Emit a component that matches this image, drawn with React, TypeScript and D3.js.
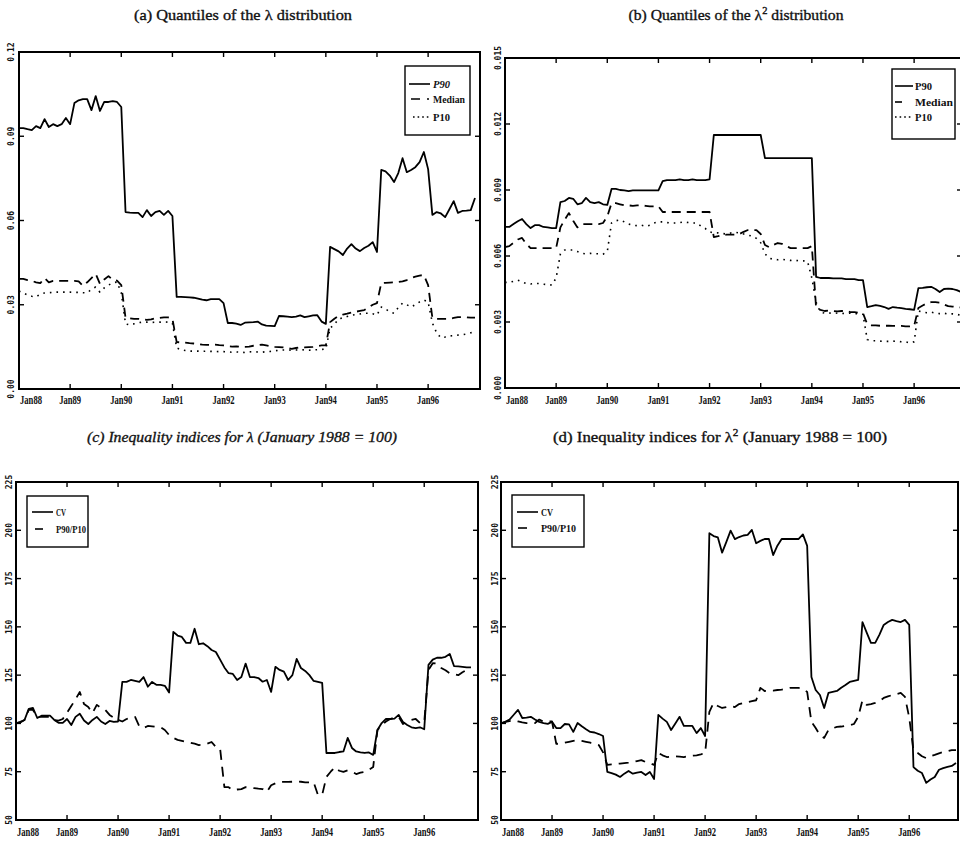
import React from "react";
import * as d3 from "d3";

// ---------- data (monthly, Jan 1988 .. Dec 1996) ----------
const yearTickMonths = [0, 12, 24, 36, 48, 60, 72, 84, 96];
const yearLabels = ["Jan88", "Jan89", "Jan90", "Jan91", "Jan92", "Jan93", "Jan94", "Jan95", "Jan96"];

const quantA_ticks = [0, 0.03, 0.06, 0.09, 0.12];
const quantA_labels = ["0.00", "0.03", "0.06", "0.09", "0.12"];
const quantB_ticks = [0, 0.003, 0.006, 0.009, 0.012, 0.015];
const quantB_labels = ["0.000", "0.003", "0.006", "0.009", "0.012", "0.015"];
const index_ticks = [50, 75, 100, 125, 150, 175, 200, 225];
const index_labels = ["50", "75", "100", "125", "150", "175", "200", "225"];

const p90Lambda = [
  0.0929, 0.0929, 0.0925, 0.0922, 0.0936, 0.0929, 0.0961, 0.0933, 0.0943, 0.0936, 0.0943, 0.0965, 0.0943,
  0.1018, 0.1028, 0.1032, 0.1032, 0.0993, 0.1043, 0.099, 0.1022, 0.1022, 0.1025, 0.1022, 0.1004,
  0.063, 0.0628, 0.0627, 0.0627, 0.0612, 0.0637, 0.0616, 0.063, 0.0634, 0.062, 0.0634, 0.0616,
  0.0328, 0.0328, 0.0327, 0.0326, 0.0325, 0.0322, 0.0318, 0.0316, 0.032, 0.032, 0.032, 0.0306,
  0.0235, 0.0235, 0.0233, 0.0228, 0.0236, 0.0237, 0.0238, 0.024, 0.023, 0.0226, 0.0225, 0.0224,
  0.026, 0.0259, 0.0258, 0.0256, 0.0258, 0.0262, 0.0256, 0.0259, 0.0262, 0.0263, 0.024, 0.0232,
  0.0506, 0.0498, 0.049, 0.0477, 0.05, 0.0516, 0.05, 0.0491, 0.0502, 0.051, 0.0523, 0.0488,
  0.078, 0.0775, 0.076, 0.0737, 0.0769, 0.0822, 0.0772, 0.078, 0.079, 0.0808, 0.0844, 0.0783,
  0.062, 0.063, 0.0625, 0.0612, 0.064, 0.0669, 0.0627, 0.0634, 0.0635, 0.0637, 0.068,
];
const medLambda = [
  0.0392, 0.0392, 0.0388, 0.0385, 0.038, 0.0377, 0.0395, 0.038, 0.0385, 0.0385, 0.0385, 0.0385, 0.0385,
  0.0385, 0.0383, 0.0367, 0.038, 0.0395, 0.041, 0.0374, 0.039, 0.0402, 0.0388, 0.0386, 0.037,
  0.0253, 0.0252, 0.025, 0.025, 0.0248, 0.0246, 0.0248, 0.0252, 0.0253, 0.0255, 0.0255, 0.025,
  0.0167, 0.0166, 0.0165, 0.0163, 0.0162, 0.016, 0.0158, 0.0157, 0.0157, 0.0158, 0.0156, 0.0155,
  0.0152, 0.0151, 0.0152, 0.015, 0.015, 0.0151, 0.0154, 0.0156, 0.0158, 0.0155, 0.0152, 0.015,
  0.0149, 0.0148, 0.0146, 0.0143, 0.0146, 0.0149, 0.0148, 0.0149, 0.015, 0.0152, 0.0155, 0.0155,
  0.0238, 0.025, 0.026, 0.0265, 0.0268, 0.0272, 0.0275, 0.0278, 0.0281, 0.029, 0.03, 0.0306,
  0.0377, 0.0378, 0.0379, 0.038, 0.0381, 0.0383, 0.0388, 0.0395, 0.04, 0.0404, 0.0406, 0.037,
  0.0253, 0.025, 0.025, 0.025, 0.025, 0.0253, 0.0256, 0.0256, 0.0255, 0.0254, 0.0254,
];
const p10Lambda = [
  0.0349, 0.0342, 0.0335, 0.033, 0.0328, 0.0338, 0.0342, 0.0343, 0.0344, 0.0345, 0.0345, 0.0345, 0.0345,
  0.0344, 0.0344, 0.0343, 0.0342, 0.0355, 0.0363, 0.0345, 0.036, 0.037, 0.0378, 0.0381, 0.0342,
  0.0232, 0.0228, 0.0232, 0.0236, 0.0238, 0.0238, 0.0237, 0.0238, 0.0238, 0.0239, 0.0238, 0.0235,
  0.0146, 0.014, 0.0137, 0.0135, 0.0135, 0.0135, 0.0134, 0.0135, 0.0134, 0.0134, 0.0133, 0.0133,
  0.0132, 0.0131, 0.0132, 0.0131, 0.013, 0.0132, 0.0133, 0.0132, 0.0131, 0.0133, 0.0134, 0.0136,
  0.0138, 0.0139, 0.0139, 0.0138, 0.0139, 0.014, 0.0139, 0.0138, 0.0139, 0.014, 0.0141, 0.0142,
  0.0217, 0.023, 0.025, 0.0253, 0.0258, 0.0263, 0.0265, 0.0267, 0.027, 0.027, 0.0268, 0.0263,
  0.0292, 0.0285, 0.0275, 0.027, 0.029, 0.0306, 0.03, 0.0292, 0.03, 0.031, 0.0317, 0.031,
  0.0235, 0.02, 0.0182, 0.0185, 0.0189, 0.019, 0.0192, 0.0193, 0.0196, 0.02, 0.0203,
];

const p90Lambda2 = [
  0.00732, 0.00732, 0.00745, 0.00758, 0.00768, 0.00745, 0.00727, 0.0074, 0.0074, 0.00732, 0.0073, 0.00727, 0.00727,
  0.00845, 0.0085, 0.00864, 0.0086, 0.00835, 0.0084, 0.00864, 0.00845, 0.0084, 0.00845, 0.00835, 0.00832,
  0.00905, 0.00905, 0.009, 0.00898, 0.00895, 0.00898, 0.00898, 0.00898, 0.00898, 0.00898, 0.00898, 0.00898,
  0.0094, 0.00945, 0.00945, 0.00945, 0.00948, 0.00945, 0.00945, 0.00948, 0.00945, 0.00945, 0.00945, 0.00948,
  0.0115, 0.0115, 0.0115, 0.0115, 0.0115, 0.0115, 0.0115, 0.0115, 0.0115, 0.0115, 0.0115, 0.0115,
  0.01045, 0.01045, 0.01045, 0.01045, 0.01045, 0.01045, 0.01045, 0.01045, 0.01045, 0.01045, 0.01045, 0.01045,
  0.00505, 0.005, 0.005, 0.005, 0.00498, 0.00498, 0.00498, 0.00495, 0.00495, 0.00495, 0.0049, 0.0049,
  0.00368, 0.00372, 0.00377, 0.00373, 0.00368, 0.0036, 0.00368, 0.00365, 0.00363, 0.0036, 0.00358, 0.00355,
  0.00454, 0.00455, 0.00458, 0.0046, 0.0045, 0.00436, 0.0045, 0.00452, 0.0045, 0.00445, 0.00436,
];
const medLambda2 = [
  0.0064, 0.00645, 0.0066, 0.00675, 0.00682, 0.00655, 0.00636, 0.00636, 0.00636, 0.00636, 0.00636, 0.00636, 0.00636,
  0.0073, 0.00765, 0.00795, 0.0076, 0.0073, 0.00745, 0.00745, 0.00745, 0.00745, 0.00745, 0.0075, 0.0078,
  0.0084, 0.0084, 0.00835, 0.0083, 0.0083, 0.00828, 0.0083, 0.0083, 0.00828, 0.00826, 0.00826, 0.00826,
  0.008, 0.008, 0.008, 0.008, 0.008, 0.008, 0.008, 0.008, 0.008, 0.008, 0.008, 0.008,
  0.00686, 0.0069, 0.00695, 0.00697, 0.00697, 0.00697, 0.007, 0.0071, 0.00718, 0.00718, 0.00718, 0.007,
  0.0065, 0.0064, 0.0065, 0.00659, 0.00655, 0.00645, 0.00636, 0.00636, 0.00636, 0.00636, 0.00636, 0.00645,
  0.00364, 0.00355, 0.0035, 0.00352, 0.0035, 0.00348, 0.0035, 0.0035, 0.00345, 0.00345, 0.00342, 0.0034,
  0.0029, 0.00285, 0.00285, 0.00283, 0.00283, 0.00283, 0.00282, 0.00282, 0.00282, 0.0028, 0.0028, 0.00282,
  0.00364, 0.00375, 0.00385, 0.0039, 0.0039, 0.00388, 0.0038, 0.00372, 0.0037, 0.00368, 0.00366,
];
const p10Lambda2 = [
  0.0048, 0.0048, 0.00485, 0.0049, 0.00482, 0.00475, 0.00473, 0.00475, 0.00475, 0.00472, 0.0047, 0.00468, 0.005,
  0.0061, 0.00627, 0.00627, 0.00627, 0.0062, 0.00612, 0.0061, 0.00612, 0.0061, 0.0061, 0.00608, 0.0062,
  0.0075, 0.0076, 0.00764, 0.00755, 0.00745, 0.0074, 0.00738, 0.0074, 0.00735, 0.0074, 0.0075, 0.00755,
  0.00755, 0.00752, 0.0075, 0.0075, 0.00752, 0.00755, 0.00752, 0.0075, 0.0075, 0.00735, 0.00725, 0.0071,
  0.00705, 0.00705, 0.00702, 0.007, 0.00705, 0.00708, 0.00705, 0.007, 0.00695, 0.0069, 0.0068, 0.0066,
  0.0061, 0.0059, 0.00585, 0.00583, 0.00585, 0.00582, 0.0058, 0.00578, 0.0058, 0.00578, 0.00575, 0.005,
  0.0039, 0.00345, 0.0034, 0.0034, 0.00342, 0.0034, 0.00338, 0.0034, 0.0034, 0.00338, 0.00337, 0.00335,
  0.0022, 0.00215, 0.00215, 0.00213, 0.00212, 0.00212, 0.00213, 0.00212, 0.0021, 0.0021, 0.00205, 0.0021,
  0.0035, 0.00345, 0.00342, 0.00345, 0.0034, 0.00338, 0.0034, 0.00336, 0.00337, 0.00335, 0.0033,
];

const cvLambda = [
  100.0, 100.5, 101.8, 107.5, 108.0, 102.8, 104.0, 104.0, 104.0, 101.8, 100.3, 100.3, 102.3,
  99.2, 103.4, 105.0, 101.5, 99.7, 101.8, 103.4, 101.0, 99.7, 101.3, 100.8, 101.0,
  121.5, 121.5, 122.5, 122.0, 121.5, 124.0, 119.0, 121.5, 120.0, 120.0, 119.5, 116.0,
  147.4, 145.5, 144.8, 141.7, 141.7, 149.0, 141.0, 141.5, 140.0, 138.0, 137.0, 133.0,
  129.0, 126.0, 125.6, 122.5, 124.0, 131.0, 124.0, 124.0, 123.5, 121.6, 122.5, 116.3,
  129.3, 127.7, 126.8, 122.5, 125.0, 133.4, 128.7, 127.2, 125.0, 122.0, 121.5, 121.0,
  84.7, 84.7, 84.7, 85.2, 85.5, 92.5, 87.3, 85.5, 85.0, 84.7, 85.0, 83.7,
  96.6, 100.2, 102.3, 102.3, 102.5, 104.4, 100.8, 99.2, 98.0, 97.6, 98.0, 97.0,
  130.3, 133.0, 134.0, 134.0, 134.5, 136.0, 129.7, 129.5, 129.3, 129.0, 129.0,
];
const ratioLambda = [
  100.0, 100.8, 101.8, 107.0, 107.0, 103.4, 103.4, 103.4, 103.4, 101.8, 101.5, 102.3, 105.5,
  109.0, 112.5, 116.3, 110.0, 108.5, 105.4, 109.6, 108.0, 107.0, 104.4, 103.0, 101.8,
  101.0, 102.3, 103.0, 103.4, 98.5, 97.6, 98.7, 98.5, 98.2, 98.0, 96.6, 94.0,
  92.5, 91.5, 91.0, 90.5, 90.0, 89.5, 88.8, 89.0, 89.5, 90.4, 87.8, 87.0,
  67.0, 67.0, 65.5, 65.8, 66.0, 67.0, 66.8, 66.5, 66.2, 66.0, 64.5, 68.0,
  69.0, 69.7, 69.7, 69.7, 69.8, 70.0, 69.8, 69.5, 69.5, 69.5, 63.0, 63.0,
  72.3, 75.0, 77.4, 75.5, 74.9, 75.7, 75.0, 73.8, 74.5, 74.9, 76.0, 77.4,
  96.6, 99.0, 101.0, 102.3, 103.0, 103.4, 99.7, 101.0, 101.8, 102.3, 100.2, 100.5,
  127.7, 131.2, 131.0, 128.7, 127.5, 126.0, 125.5, 125.0, 126.5, 127.7, 128.7,
];
const cvLambda2 = [
  100.0, 100.8, 102.0, 104.5, 107.0, 102.8, 103.0, 103.4, 102.0, 100.8, 100.2, 99.8, 100.8,
  97.6, 97.6, 99.7, 99.5, 95.6, 100.2, 98.5, 97.0, 95.6, 95.3, 94.5, 93.5,
  74.9, 74.3, 73.5, 72.3, 74.0, 75.4, 74.0, 74.5, 74.9, 73.3, 74.9, 71.2,
  104.4, 102.5, 100.8, 96.6, 100.0, 103.4, 98.7, 98.7, 98.7, 95.0, 97.6, 93.5,
  198.5, 197.0, 196.3, 188.4, 194.0, 199.8, 195.4, 196.5, 197.3, 197.6, 200.2, 193.3,
  194.5, 195.5, 195.5, 187.2, 192.0, 195.5, 195.5, 195.5, 195.5, 195.5, 197.9, 191.9,
  124.0, 117.3, 114.7, 108.0, 115.8, 116.3, 116.8, 118.5, 119.9, 121.5, 122.0, 122.5,
  152.5, 147.0, 141.7, 141.7, 146.0, 151.0, 152.5, 153.6, 153.0, 152.5, 153.6, 151.0,
  77.4, 75.5, 74.3, 69.2, 71.0, 72.3, 76.0, 76.9, 77.5, 78.0, 79.5,
];
const ratioLambda2 = [
  100.0, 100.8, 101.2, 101.5, 101.0, 100.5, 100.2, 100.2, 100.2, 102.0, 100.8, 101.0, 101.0,
  89.4, 89.6, 90.0, 90.5, 91.0, 91.4, 91.0, 90.5, 90.0, 89.4, 88.8, 85.0,
  78.5, 78.8, 79.0, 79.2, 79.5, 79.7, 80.0, 80.5, 81.0, 80.0, 79.5, 78.5,
  84.7, 83.5, 82.6, 82.8, 83.0, 82.8, 82.6, 83.0, 83.3, 83.5, 84.0, 84.7,
  106.0, 110.6, 109.0, 108.0, 108.5, 109.0, 108.5, 110.0, 110.6, 111.0, 111.5, 112.0,
  118.4, 116.8, 117.0, 117.0, 117.3, 117.5, 118.0, 118.4, 118.4, 118.4, 118.0, 116.3,
  100.8, 97.6, 94.0, 92.5, 96.6, 97.5, 98.2, 98.4, 98.7, 99.0, 99.7, 103.4,
  112.0, 109.6, 110.0, 110.6, 111.5, 113.2, 114.0, 114.7, 115.2, 115.8, 113.7, 103.0,
  86.0, 84.7, 83.0, 82.0, 83.0, 83.7, 84.5, 85.2, 85.6, 86.2, 86.2,
];

// ---------- styles ----------
const SOLID = "";
const DASHED = "9,6";
const DOTTED = "1.6,5";
const IDX_DASH = "10,7";

type S = { values: number[]; dash: string; w: number };
type LegendItem = { label: string; dash: string; x1: number; x2: number; dy: number; tw: number };

interface PanelProps {
  left: number; right: number; top: number; bottom: number;
  dataLeft: number; dataRight: number;
  yDomain: [number, number];
  yTicks: number[]; yLabels: string[];
  yLabelOff: number;
  series: S[];
  legendBox: [number, number, number, number];
  legendItems: LegendItem[];
  legendTextX: number;
  legendItalic?: boolean;
  xLabelY: number;
}

function Panel(p: PanelProps) {
  const x = d3.scaleLinear().domain([0, 107]).range([p.dataLeft, p.dataRight]);
  const y = d3.scaleLinear().domain(p.yDomain).range([p.bottom, p.top]);
  const line = d3.line<number>().x((_, i) => x(i)).y((v) => y(v));
  const [lx, ly, lw, lh] = p.legendBox;
  return (
    <g>
      {p.series.map((s, k) => (
        <path key={k} d={line(s.values) || ""} fill="none" stroke="#000" strokeWidth={s.w}
          strokeDasharray={s.dash || undefined} strokeLinejoin="round" />
      ))}
      <rect x={p.left} y={p.top} width={p.right - p.left} height={p.bottom - p.top}
        fill="none" stroke="#000" strokeWidth={2} />
      {yearTickMonths.map((m, k) => k === 0 ? null : (
        <g key={m}>
          <line x1={x(m)} x2={x(m)} y1={p.bottom} y2={p.bottom - 5} stroke="#000" strokeWidth={1.4} />
          <line x1={x(m)} x2={x(m)} y1={p.top} y2={p.top + 5} stroke="#000" strokeWidth={1.4} />
        </g>
      ))}
      {p.yTicks.map((t, k) => (
        <g key={t}>
          {k > 0 && k < p.yTicks.length - 1 && (
            <>
              <line x1={p.left} x2={p.left + 5} y1={y(t)} y2={y(t)} stroke="#000" strokeWidth={1.4} />
              <line x1={p.right} x2={p.right - 5} y1={y(t)} y2={y(t)} stroke="#000" strokeWidth={1.4} />
            </>
          )}
          <text transform={`translate(${p.left - p.yLabelOff},${y(t)}) rotate(-90)`}
            textAnchor="middle" fontFamily="'DejaVu Sans Mono', monospace" fontSize={8}
            fontWeight="bold" fill="#111">{p.yLabels[k]}</text>
        </g>
      ))}
      {yearTickMonths.map((m, k) => (
        <text key={"l" + m} x={k === 0 ? x(m) + 1 : x(m)} y={p.xLabelY}
          textAnchor={k === 0 ? "start" : "middle"} fontFamily="'Liberation Serif', serif"
          fontWeight="bold" fontSize={12} textLength={22} lengthAdjust="spacingAndGlyphs"
          fill="#111">{yearLabels[k]}</text>
      ))}
      <rect x={lx} y={ly} width={lw} height={lh} fill="#fff" stroke="#000" strokeWidth={1.4} />
      {p.legendItems.map((it, k) => (
        <g key={k}>
          <line x1={it.x1} x2={it.x2} y1={it.dy} y2={it.dy} stroke="#000" strokeWidth={1.6}
            strokeDasharray={it.dash || undefined} />
          <text x={p.legendTextX} y={it.dy + 3.5} fontFamily="'Liberation Serif', serif"
            fontWeight="bold" fontStyle={p.legendItalic && k === 0 ? "italic" : "normal"}
            fontSize={11} textLength={it.tw} lengthAdjust="spacingAndGlyphs" fill="#111">{it.label}</text>
        </g>
      ))}
    </g>
  );
}

const titleStyle = {
  fontFamily: "'Liberation Serif', serif",
  fontSize: 15,
  fill: "#111",
  stroke: "#111",
  strokeWidth: 0.35,
} as const;

export default function App() {
  return (
    <svg width={960} height={844} viewBox="0 0 960 844"
      style={{ position: "absolute", left: 0, top: 0, background: "#fff" }}>
      <rect x={0} y={0} width={960} height={844} fill="#fff" />

      <text x={243} y={20} textAnchor="middle" textLength={218} lengthAdjust="spacingAndGlyphs" style={titleStyle}>
        (a) Quantiles of the λ distribution
      </text>
      <text x={736} y={20} textAnchor="middle" textLength={215} lengthAdjust="spacingAndGlyphs" style={titleStyle}>
        (b) Quantiles of the λ<tspan dy={-6} fontSize={10}>2</tspan><tspan dy={6}> distribution</tspan>
      </text>
      <text x={242} y={442} textAnchor="middle" textLength={310} lengthAdjust="spacingAndGlyphs"
        fontStyle="italic" style={titleStyle}>
        (c) Inequality indices for λ (January 1988 = 100)
      </text>
      <text x={720} y={442} textAnchor="middle" textLength={334} lengthAdjust="spacingAndGlyphs" style={titleStyle}>
        (d) Inequality indices for λ<tspan dy={-6} fontSize={10}>2</tspan><tspan dy={6}> (January 1988 = 100)</tspan>
      </text>

      <Panel left={19} right={480} top={52} bottom={389} dataLeft={19} dataRight={475}
        yDomain={[0, 0.12]} yTicks={quantA_ticks} yLabels={quantA_labels} yLabelOff={5}
        series={[
          { values: p90Lambda, dash: SOLID, w: 1.8 },
          { values: medLambda, dash: DASHED, w: 1.8 },
          { values: p10Lambda, dash: DOTTED, w: 1.6 },
        ]}
        legendBox={[405, 66, 65, 69]}
        legendItems={[
          { label: "P90", dash: SOLID, x1: 409, x2: 430, dy: 84, tw: 17 },
          { label: "Median", dash: "9,7,2", x1: 411, x2: 430, dy: 99, tw: 32 },
          { label: "P10", dash: "1.6,3", x1: 413, x2: 429, dy: 117, tw: 17 },
        ]}
        legendTextX={433} legendItalic xLabelY={404} />

      <Panel left={505} right={962} top={58} bottom={388} dataLeft={505} dataRight={961}
        yDomain={[0, 0.015]} yTicks={quantB_ticks} yLabels={quantB_labels} yLabelOff={4}
        series={[
          { values: p90Lambda2, dash: SOLID, w: 1.8 },
          { values: medLambda2, dash: DASHED, w: 1.8 },
          { values: p10Lambda2, dash: DOTTED, w: 1.6 },
        ]}
        legendBox={[892, 69, 63, 70]}
        legendItems={[
          { label: "P90", dash: SOLID, x1: 895, x2: 913, dy: 86, tw: 17 },
          { label: "Median", dash: "7,20", x1: 895, x2: 913, dy: 102, tw: 38 },
          { label: "P10", dash: "1.6,3", x1: 895, x2: 913, dy: 117, tw: 17 },
        ]}
        legendTextX={915} xLabelY={404} />

      <Panel left={16} right={478} top={482} bottom={820} dataLeft={16} dataRight={471}
        yDomain={[50, 225]} yTicks={index_ticks} yLabels={index_labels} yLabelOff={4}
        series={[
          { values: cvLambda, dash: SOLID, w: 1.8 },
          { values: ratioLambda, dash: IDX_DASH, w: 1.8 },
        ]}
        legendBox={[27, 496, 61, 51]}
        legendItems={[
          { label: "CV", dash: SOLID, x1: 32, x2: 53, dy: 512, tw: 10 },
          { label: "P90/P10", dash: "8,30", x1: 35, x2: 53, dy: 529, tw: 30 },
        ]}
        legendTextX={56} xLabelY={836} />

      <Panel left={501} right={958} top={482} bottom={820} dataLeft={501} dataRight={956}
        yDomain={[50, 225]} yTicks={index_ticks} yLabels={index_labels} yLabelOff={3}
        series={[
          { values: cvLambda2, dash: SOLID, w: 1.8 },
          { values: ratioLambda2, dash: IDX_DASH, w: 1.8 },
        ]}
        legendBox={[512, 495, 72, 52]}
        legendItems={[
          { label: "CV", dash: SOLID, x1: 517, x2: 538, dy: 512, tw: 12 },
          { label: "P90/P10", dash: "9,30", x1: 518, x2: 538, dy: 528, tw: 35 },
        ]}
        legendTextX={541} xLabelY={836} />
    </svg>
  );
}
